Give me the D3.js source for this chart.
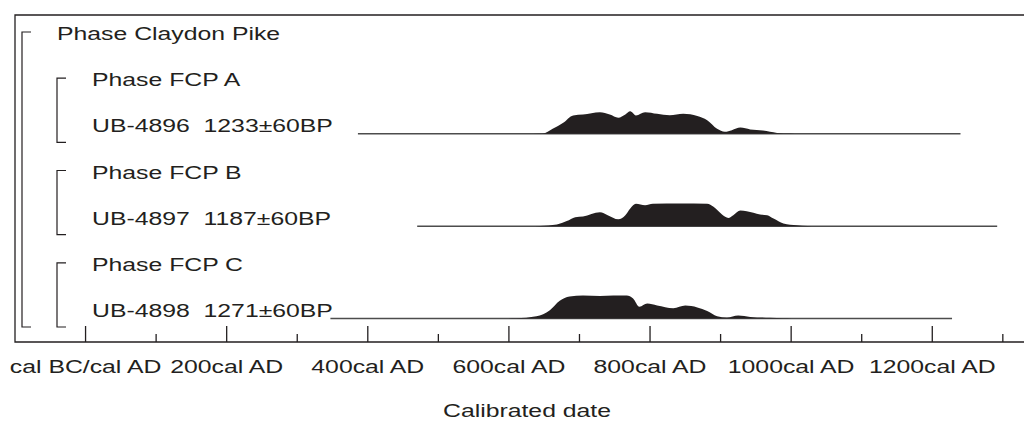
<!DOCTYPE html>
<html>
<head>
<meta charset="utf-8">
<script src="https://cdn.jsdelivr.net/npm/d3@7"></script>
<style>
  body { margin: 0; background: #fff; }
  svg { display: block; }
  text { font-family: "Liberation Sans", Arial, sans-serif; fill: #231f20; white-space: pre; }
</style>
</head>
<body>
<div id="chart"></div>
<script>
// row labels, top to bottom, and their indent level
var rowLabels = ["Phase Claydon Pike", "Phase FCP A", "UB-4896  1233±60BP",
  "Phase FCP B", "UB-4897  1187±60BP", "Phase FCP C", "UB-4898  1271±60BP"];
var rowLevels = [0, 1, 1, 1, 1, 1, 1];

// brackets: [first row, last row, level]
var brackets = [[0, 6, 0], [1, 2, 1], [3, 4, 1], [5, 6, 1]];

// axis
var majorTicks = [0, 200, 400, 600, 800, 1000, 1200];
var tickLabels = ["cal BC/cal AD", "200cal AD", "400cal AD", "600cal AD",
  "800cal AD", "1000cal AD", "1200cal AD"];
var minorTicks = [100, 300, 500, 700, 900, 1100, 1300];

// samples: row index, extent of the line (cal AD), probability [year, rel. density]
var sampleRows = [2, 4, 6];
var sampleExtents = [[386, 1240], [470, 1292], [347, 1228]];
var ub4896 = [[620, 0], [648, 0.01], [662, 0.22], [677, 0.48], [691, 0.8], [705, 0.84],
  [729, 0.94], [743, 0.84], [755, 0.7], [765, 0.84], [772, 0.98], [780, 0.8],
  [793, 0.94], [810, 0.87], [828, 0.81], [847, 0.87], [867, 0.77], [881, 0.59],
  [895, 0.22], [906, 0.09], [916, 0.16], [928, 0.27], [942, 0.19], [960, 0.14],
  [980, 0.04], [999, 0.01], [1010, 0]];
var ub4897 = [[630, 0], [644, 0.01], [668, 0.07], [682, 0.22], [694, 0.39], [705, 0.42],
  [729, 0.6], [740, 0.48], [755, 0.3], [765, 0.48], [772, 0.77], [780, 0.97],
  [793, 0.91], [804, 0.97], [843, 0.99], [881, 0.97], [890, 0.84], [902, 0.51],
  [911, 0.36], [918, 0.48], [928, 0.68], [937, 0.65], [956, 0.51], [966, 0.48],
  [975, 0.33], [989, 0.12], [1008, 0.04], [1023, 0.01], [1035, 0]];
var ub4898 = [[590, 0], [610, 0.01], [639, 0.1], [658, 0.36], [672, 0.77], [686, 0.96],
  [705, 1.0], [729, 0.98], [748, 1.0], [767, 1.0], [776, 0.87], [785, 0.51],
  [796, 0.65], [810, 0.57], [833, 0.45], [850, 0.56], [867, 0.48], [881, 0.33],
  [895, 0.1], [909, 0.04], [925, 0.13], [942, 0.07], [970, 0.03], [989, 0.01], [1000, 0]];
var sampleData = [ub4896, ub4897, ub4898];

var width = 1024, height = 422;
var fontSize = 18.5, stretch = 1.34;

var svg = d3.select("#chart").append("svg")
  .attr("width", width).attr("height", height);

var x = d3.scaleLinear().domain([-100, 1330]).range([15, 1024]);
var yRow = d3.scalePoint().domain(d3.range(rowLabels.length)).range([40, 317]);
var h = d3.scaleLinear().domain([0, 1]).range([0, 23]);

var frameTop = 15, axisY = 342;

// frame
svg.append("path")
  .attr("d", "M" + (width + 2) + "," + frameTop + "H" + x(-100) + "V" + axisY + "H" + (width + 2))
  .attr("fill", "none").attr("stroke", "#231f20").attr("stroke-width", 1.3);

// labels
svg.selectAll("text.row").data(rowLabels).enter().append("text")
  .attr("class", "row")
  .attr("transform", function (d, i) {
    return "translate(" + (57 + 35 * rowLevels[i]) + "," + yRow(i) + ") scale(" + stretch + ",1)";
  })
  .style("font-size", fontSize + "px")
  .text(function (d) { return d; });

// brackets
svg.selectAll("path.bracket").data(brackets).enter().append("path")
  .attr("class", "bracket")
  .attr("d", function (d) {
    var bx = 22 + 35 * d[2];
    return "M" + (bx + 9) + "," + (yRow(d[0]) - 8) + "H" + bx + "V" + (yRow(d[1]) + 10) + "H" + (bx + 9);
  })
  .attr("fill", "none").attr("stroke", "#231f20").attr("stroke-width", 1.2);

// sample lines and distributions
var area = d3.area()
  .x(function (d) { return x(d[0]); })
  .y0(0)
  .y1(function (d) { return -h(d[1]); })
  .curve(d3.curveMonotoneX);

sampleRows.forEach(function (r, i) {
  var g = svg.append("g").attr("transform", "translate(0," + (yRow(r) + 1.5) + ")");
  g.append("line")
    .attr("x1", x(sampleExtents[i][0])).attr("x2", x(sampleExtents[i][1]))
    .attr("stroke", "#4d4d4d").attr("stroke-width", 1.5);
  g.append("path").datum(sampleData[i])
    .attr("d", area)
    .attr("fill", "#231f20");
});

// axis ticks
svg.selectAll("line.major").data(majorTicks).enter().append("line")
  .attr("x1", function (d) { return x(d); }).attr("x2", function (d) { return x(d); })
  .attr("y1", axisY - 16).attr("y2", axisY)
  .attr("stroke", "#231f20").attr("stroke-width", 1.3);
svg.selectAll("line.minor").data(minorTicks).enter().append("line")
  .attr("x1", function (d) { return x(d); }).attr("x2", function (d) { return x(d); })
  .attr("y1", axisY - 8).attr("y2", axisY)
  .attr("stroke", "#231f20").attr("stroke-width", 1.3);

svg.selectAll("text.tick").data(majorTicks).enter().append("text")
  .attr("transform", function (d) {
    return "translate(" + x(d) + "," + 373 + ") scale(" + stretch + ",1)";
  })
  .attr("text-anchor", "middle")
  .style("font-size", fontSize + "px")
  .text(function (d, i) { return tickLabels[i]; });

// axis title
svg.append("text")
  .attr("transform", "translate(527,417) scale(" + stretch + ",1)")
  .attr("text-anchor", "middle")
  .style("font-size", fontSize + "px")
  .text("Calibrated date");
</script>
</body>
</html>
